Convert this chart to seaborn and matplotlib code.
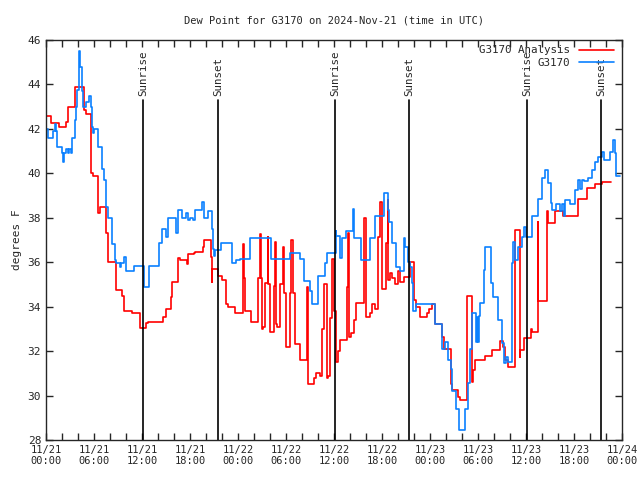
import numpy as np
import pandas as pd
import matplotlib
matplotlib.use("Agg")
import matplotlib.pyplot as plt
import seaborn as sns

sns.set_style("ticks")
plt.rcParams['font.family'] = ['DejaVu Sans Mono', 'DejaVu Sans']

title = "Dew Point for G3170 on 2024-Nov-21 (time in UTC)"
ylabel = "degrees F"

# hours after 11/21 00:00 UTC where the step changes, and value from there on
obs_hours = [0.0, 0.2, 0.9, 1.1, 1.2, 1.4, 2.0, 2.1, 2.3, 2.5, 2.7, 2.9, 3.1, 3.3, 3.6, 3.75,
             3.9, 4.15, 4.3, 4.45, 4.6, 5.0, 5.4, 5.6, 5.8, 5.9, 6.0, 6.5, 7.0, 7.2, 7.5, 7.75,
             8.2, 8.3, 8.6, 8.8, 9.2, 9.4, 9.75, 10.0, 11.0, 12.25, 12.9, 14.1, 14.5, 15.0,
             15.25, 16.2, 16.5, 17.0, 17.5, 17.8, 18.0, 18.4, 18.6, 19.5, 19.7, 20.2, 20.7,
             20.85, 21.0, 21.1, 21.9, 23.3, 23.8, 24.2, 25.5, 28.1, 30.5, 31.75, 32.25, 33.0,
             33.2, 34.0, 34.9, 35.1, 36.2, 36.3, 36.75, 37.0, 37.5, 38.4, 38.5, 39.4, 40.5,
             41.1, 42.2, 42.7, 42.9, 43.2, 43.8, 44.2, 44.7, 44.9, 45.2, 45.5, 45.7, 45.9,
             46.3, 48.6, 49.5, 49.9, 50.3, 50.6, 50.8, 51.2, 51.6, 52.4, 52.7, 53.0, 53.3,
             53.7, 53.85, 54.0, 54.1, 54.25, 54.7, 54.9, 55.6, 55.9, 56.5, 56.95, 57.25, 57.5,
             57.7, 58.2, 58.4, 58.6, 59.0, 59.5, 59.75, 60.0, 60.7, 61.5, 62.0, 62.4, 62.8,
             63.1, 63.3, 63.8, 64.25, 64.5, 64.7, 64.9, 65.5, 66.1, 66.5, 66.8, 67.0, 67.2,
             67.8, 68.2, 68.6, 69.0, 69.5, 69.7, 70.5, 70.9, 71.1, 71.3, 71.75]
obs_values = [42.0, 41.6, 41.9, 42.2, 41.9, 41.2, 40.9, 40.5, 40.9, 41.1, 40.9, 41.1, 40.9, 41.6,
              42.4, 43.0, 43.75, 45.5, 44.8, 43.7, 43.0, 43.2, 43.5, 43.0, 42.1, 41.8, 42.0,
              41.2, 40.2, 39.7, 38.5, 38.0, 37.0, 36.8, 36.1, 35.95, 35.8, 35.95, 36.25, 35.6,
              35.85, 34.9, 35.85, 36.85, 37.5, 37.15, 38.0, 37.3, 38.35, 38.0, 38.2, 37.9, 38.0,
              37.9, 38.35, 38.7, 38.0, 38.3, 37.5, 36.6, 36.3, 36.55, 36.85, 35.95, 36.1, 36.15,
              37.1, 36.15, 36.4, 36.15, 35.15, 34.7, 34.1, 35.4, 35.95, 36.4, 37.4, 37.2, 36.2,
              37.1, 37.4, 38.4, 37.1, 36.1, 37.1, 38.1, 39.1, 38.35, 37.8, 36.85, 35.8, 35.6,
              37.1, 36.7, 36.0, 35.8, 35.05, 33.8, 34.1, 33.2, 32.1, 32.4, 31.6, 31.2, 30.2,
              29.4, 28.45, 29.4, 30.55, 32.1, 33.7, 32.4, 33.55, 32.4, 33.6, 34.15, 35.65, 36.7,
              35.05, 34.45, 33.4, 32.35, 31.45, 31.75, 31.5, 35.95, 36.9, 36.1, 36.7, 37.15,
              37.6, 37.15, 38.1, 38.85, 39.8, 40.15, 39.55, 38.65, 38.35, 38.6, 38.3, 38.6,
              38.1, 38.8, 38.6, 39.25, 39.7, 39.3, 39.7, 39.65, 39.8, 40.15, 40.5, 40.75, 40.95,
              40.6, 40.95, 41.5, 40.9, 39.9, 39.9]

ana_hours = [0.0, 0.6, 1.6, 2.45, 2.7, 3.6, 4.75, 5.0, 5.6, 5.9, 6.5, 6.75, 7.45, 7.7, 8.7, 9.5,
             9.75, 10.7, 11.7, 12.5, 12.75, 14.6, 15.0, 15.6, 15.8, 16.5, 16.8, 17.6, 17.75,
             18.5, 18.6, 19.6, 19.75, 20.6, 20.7, 20.8, 21.5, 22.0, 22.5, 22.8, 23.6, 24.6,
             24.75, 24.9, 25.6, 26.5, 26.7, 26.85, 27.0, 27.1, 27.4, 27.7, 27.8, 28.0, 28.5,
             28.6, 28.7, 28.9, 29.25, 29.6, 29.75, 30.0, 30.5, 30.6, 30.9, 31.1, 31.7, 32.6,
             32.7, 32.8, 33.5, 33.75, 34.25, 34.5, 34.8, 35.1, 35.3, 35.5, 35.75, 36.0, 36.2,
             36.5, 36.75, 37.6, 37.7, 37.9, 38.1, 38.5, 38.7, 39.7, 40.0, 40.5, 40.7, 41.1,
             41.5, 41.75, 42.0, 42.5, 42.7, 42.8, 43.0, 43.2, 43.6, 44.0, 44.25, 44.7, 45.5,
             46.0, 46.2, 46.75, 47.6, 47.9, 48.2, 48.6, 49.5, 49.7, 50.6, 50.8, 51.5, 51.75,
             52.6, 53.2, 53.3, 53.4, 53.6, 54.9, 55.7, 56.75, 57.1, 57.4, 57.7, 58.6, 59.2,
             59.3, 59.7, 60.6, 60.75, 61.5, 61.55, 62.6, 62.8, 63.6, 64.6, 66.5, 67.6, 68.6,
             69.5, 70.6]
ana_values = [42.6, 42.25, 42.1, 42.3, 43.0, 43.9, 42.85, 42.65, 40.0, 39.9, 38.2, 38.5, 37.3,
              36.0, 34.75, 34.5, 33.8, 33.7, 33.05, 33.25, 33.3, 33.55, 33.9, 34.45, 35.1, 36.2,
              36.1, 35.9, 36.35, 36.4, 36.45, 36.7, 37.0, 36.25, 35.1, 35.7, 35.4, 35.2, 34.1,
              34.0, 33.7, 36.8, 35.3, 33.8, 33.3, 35.3, 37.25, 35.3, 33.0, 33.1, 35.05, 37.15,
              35.0, 32.85, 34.95, 36.9, 33.2, 33.1, 35.0, 36.7, 34.6, 32.2, 34.6, 37.0, 34.6,
              32.3, 31.6, 34.9, 33.25, 30.5, 30.8, 31.0, 30.9, 33.0, 35.0, 30.8, 30.9, 33.5,
              36.15, 33.8, 31.5, 32.0, 32.5, 34.9, 37.3, 32.65, 32.8, 33.4, 34.15, 38.0, 33.55,
              33.7, 34.1, 33.9, 37.15, 38.7, 34.8, 36.85, 38.8, 35.2, 35.5, 35.3, 35.0, 35.6,
              35.1, 35.35, 36.0, 34.3, 34.0, 33.55, 33.7, 33.9, 34.1, 33.2, 32.65, 32.1, 30.5,
              30.25, 29.95, 29.8, 34.5, 31.0, 30.6, 31.15, 31.6, 31.8, 32.05, 32.45, 32.2, 31.6,
              31.3, 37.45, 31.75, 32.05, 32.6, 33.0, 32.85, 37.8, 34.25, 38.3, 37.75, 38.3, 38.1,
              38.85, 39.35, 39.5, 39.6, 39.6]

sun_hours = [12.1, 21.5, 36.1, 45.4, 60.1, 69.4]
sun_names = ["Sunrise", "Sunset", "Sunrise", "Sunset", "Sunrise", "Sunset"]

tick_hours = list(range(0, 73, 2))
label_hours = [0, 6, 12, 18, 24, 30, 36, 42, 48, 54, 60, 66, 72]
label_text = ["11/21\n00:00", "11/21\n06:00", "11/21\n12:00", "11/21\n18:00",
              "11/22\n00:00", "11/22\n06:00", "11/22\n12:00", "11/22\n18:00",
              "11/23\n00:00", "11/23\n06:00", "11/23\n12:00", "11/23\n18:00",
              "11/24\n00:00"]

fs = 7.5

fig = plt.figure(figsize=(6.4, 4.8), dpi=100)
ax = fig.add_axes([46/640, 40/480, 576/640, 400/480])

sns.lineplot(x=ana_hours, y=ana_values, ax=ax, color="#ff0000", lw=1.2,
             drawstyle="steps-post", label="G3170 Analysis", errorbar=None)
sns.lineplot(x=obs_hours, y=obs_values, ax=ax, color="#0a80ff", lw=1.2,
             drawstyle="steps-post", label="G3170", errorbar=None)

for h, name in zip(sun_hours, sun_names):
    ax.axvline(h, ymin=0, ymax=(43.3 - 28) / 18, color="black", lw=1.2)
    ax.text(h, 43.5, name, rotation=90, ha="center", va="bottom", fontsize=fs + 0.3)

ax.set_xlim(0, 72)
ax.set_ylim(28, 46)
ax.set_xticks(tick_hours)
lab = dict(zip(label_hours, label_text))
ax.set_xticklabels([lab.get(t, "") for t in tick_hours], fontsize=fs)
ax.set_yticks(range(28, 47, 2))
ax.tick_params(axis="y", labelsize=fs + 0.5)
ax.tick_params(direction="in", length=5, top=True, right=True, width=1)
for s in ax.spines.values():
    s.set_linewidth(1)
ax.set_xlabel("")
ax.set_ylabel(ylabel, fontsize=fs + 0.5)
ax.set_title(title, fontsize=fs, pad=12)

leg = ax.legend(loc="upper right", frameon=False, markerfirst=False, fontsize=fs + 0.3,
                handlelength=3.2, borderaxespad=0.1, labelspacing=0.2,
                bbox_to_anchor=(0.995, 1.0))

plt.savefig("out.png", dpi=100)
